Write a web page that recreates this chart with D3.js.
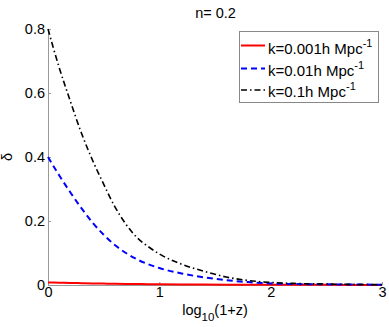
<!DOCTYPE html>
<html>
<head>
<meta charset="utf-8">
<script src="https://cdn.jsdelivr.net/npm/d3@7"></script>
<style>
  body { margin: 0; background: #fff; }
  svg { font-family: "Liberation Sans", Arial, Helvetica, sans-serif; }
</style>
</head>
<body>
<svg id="chart" width="389" height="327"></svg>
<script>
// log10(1+z) sample points
var xs = [0, 0.1, 0.2, 0.3, 0.4, 0.5, 0.6, 0.7, 0.8, 0.9, 1.0, 1.2, 1.4, 1.6, 1.8, 2.0, 2.2, 2.5, 3.0];

// delta for each k
var deltaK0001 = [0.008, 0.0072, 0.0064, 0.0057, 0.005, 0.0044, 0.0038, 0.0033, 0.0029, 0.0025, 0.0022, 0.0017, 0.0013, 0.001, 0.0008, 0.0006, 0.0005, 0.0004, 0.0003];
var deltaK001 = [0.40, 0.343, 0.29, 0.24, 0.195, 0.157, 0.125, 0.1, 0.08, 0.065, 0.053, 0.036, 0.024, 0.015, 0.009, 0.005, 0.003, 0.002, 0.001];
var deltaK01 = [0.80, 0.68, 0.575, 0.475, 0.39, 0.315, 0.245, 0.19, 0.148, 0.12, 0.097, 0.065, 0.043, 0.025, 0.014, 0.008, 0.005, 0.003, 0.001];

var seriesNames = ["k=0.001h Mpc", "k=0.01h Mpc", "k=0.1h Mpc"];
var xTicks = [0, 1, 2, 3];
var yTicks = [0, 0.2, 0.4, 0.6, 0.8];
var title = "n= 0.2";

var svg = d3.select("#chart"),
    margin = {left: 48, top: 29, right: 7, bottom: 42},
    width = 389 - margin.left - margin.right,
    height = 327 - margin.top - margin.bottom,
    fontSize = 14.5,
    axisColor = "#999";

var x = d3.scaleLinear().domain([0, 3]).range([margin.left, margin.left + width]);
var y = d3.scaleLinear().domain([0, 0.8]).range([margin.top + height, margin.top]);

var styles = [
    {color: "#ff0000", dash: null, w: 2},
    {color: "#0000ff", dash: "6,4", w: 2},
    {color: "#000000", dash: "6,3,1.5,3", w: 1.6}
];
var data = [deltaK0001, deltaK001, deltaK01];

// axes (left and bottom only, ticks inward)
var xAxis = svg.append("g")
    .attr("transform", "translate(0," + y(0) + ")")
    .call(d3.axisBottom(x).tickValues(xTicks).tickSizeInner(-3).tickSizeOuter(0).tickPadding(2)
        .tickFormat(d3.format("d")));

var yAxis = svg.append("g")
    .attr("transform", "translate(" + x(0) + ",0)")
    .call(d3.axisLeft(y).tickValues(yTicks).tickSizeInner(-3).tickSizeOuter(0).tickPadding(3)
        .tickFormat(function(d) { return d === 0 ? "0" : d3.format(".1f")(d); }));

[xAxis, yAxis].forEach(function(a) {
    a.select(".domain").attr("stroke", axisColor);
    a.selectAll(".tick line").attr("stroke", axisColor);
    a.selectAll(".tick text").attr("fill", "#000").style("font-size", fontSize + "px")
        .style("font-family", "'Liberation Sans', Arial, sans-serif");
});

// curves
var line = d3.line()
    .x(function(d, i) { return x(xs[i]); })
    .y(function(d) { return y(d); })
    .curve(d3.curveMonotoneX);

data.forEach(function(s, i) {
    svg.append("path")
        .datum(s)
        .attr("fill", "none")
        .attr("stroke", styles[i].color)
        .attr("stroke-width", styles[i].w)
        .attr("stroke-dasharray", styles[i].dash)
        .attr("d", line);
});

// title
svg.append("text")
    .attr("x", 215.5).attr("y", 18)
    .attr("text-anchor", "middle")
    .style("font-size", fontSize + "px")
    .text(title);

// x label with subscript
var xl = svg.append("text")
    .attr("x", 215).attr("y", 315)
    .attr("text-anchor", "middle")
    .style("font-size", fontSize + "px");
xl.append("tspan").text("log");
xl.append("tspan").attr("dy", 6).style("font-size", "11.5px").text("10");
xl.append("tspan").attr("dy", -6).text("(1+z)");

// y label
svg.append("text")
    .attr("transform", "translate(12,157) rotate(-90)")
    .attr("text-anchor", "middle")
    .style("font-size", fontSize + "px")
    .text("\u03b4");

// legend
var lg = svg.append("g");
lg.append("rect")
    .attr("x", 239.5).attr("y", 31.5)
    .attr("width", 139).attr("height", 71)
    .attr("fill", "#fff").attr("stroke", "#888");

var rowLine = [45.5, 68.5, 90];
var rowText = [54, 76, 97];
seriesNames.forEach(function(name, i) {
    lg.append("line")
        .attr("x1", 241).attr("x2", 265)
        .attr("y1", rowLine[i]).attr("y2", rowLine[i])
        .attr("stroke", styles[i].color)
        .attr("stroke-width", styles[i].w)
        .attr("stroke-dasharray", styles[i].dash);
    var t = lg.append("text")
        .attr("x", 268).attr("y", rowText[i])
        .style("font-size", "15px");
    t.append("tspan").text(name);
    t.append("tspan").attr("dy", -7).style("font-size", "11px").text("-1");
});
</script>
</body>
</html>
